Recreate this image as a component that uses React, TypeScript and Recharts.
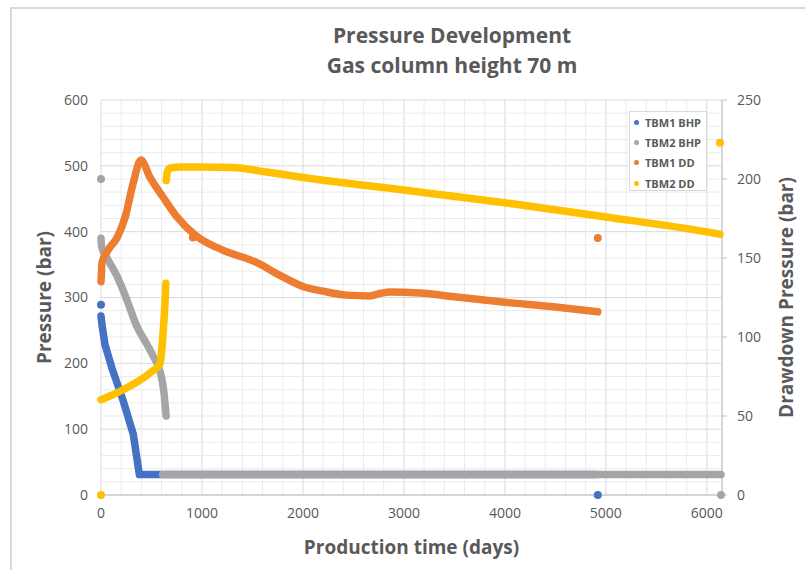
import {
  ScatterChart,
  Scatter,
  XAxis,
  YAxis,
  CartesianGrid,
  ReferenceLine,
  Label,
} from 'recharts';

// Values
const tbm1BhpDays = [0, 10, 40, 110, 220, 320, 380, 4920];
const tbm1BhpBar = [272, 258, 228, 192, 143, 92, 31, 31];

const tbm2BhpDays = [0, 5, 60, 150, 260, 350, 450, 520, 590, 620, 645];
const tbm2BhpBar = [390, 378, 360, 335, 295, 258, 230, 210, 185, 160, 120];
const tbm2BhpFlatDays = [610, 6140];
const tbm2BhpFlatBar = [31, 31];

const tbm1DdDays = [
  0, 5, 10, 70, 160, 240, 317, 396, 485, 614, 752, 931, 1000, 1205,
  1545, 1772, 2000, 2200, 2430, 2660, 2760, 2860, 3160, 3500, 4000, 4500, 4920,
];
const tbm1DdBar = [
  135, 142, 147, 155, 163, 176, 197, 212, 201, 188.6, 176, 164.6, 161.5,
  155, 147, 139, 132, 129, 126.5, 126, 127.5, 128.5, 127.8, 125.5, 122, 119, 116,
];

const tbm2DdDaysA = [0, 100, 200, 300, 410, 500, 584, 614, 635, 642];
const tbm2DdBarA = [60.3, 63, 66, 69.5, 73.6, 78, 83, 102, 123, 134];
const tbm2DdDaysB = [
  646, 655, 683, 810, 1010, 1300, 1640, 2000, 3000, 4000, 5000, 6000, 6130,
];
const tbm2DdBarB = [
  199, 204, 207, 207.6, 207.6, 207.3, 204.4, 201, 193, 185, 176, 166.5, 165,
];

// single stray points
const tbm1BhpDots = [
  { x: 0, y: 289 },
  { x: 4920, y: 0 },
];
const tbm2BhpDots = [
  { x: 0, y: 480 },
  { x: 6140, y: 0 },
];
const tbm1DdDots = [
  { x: 910, y: 163 },
  { x: 4920, y: 162.6 },
];
const tbm2DdDots = [
  { x: 0, y: 0 },
  { x: 6130, y: 223 },
];

const xTicks = [0, 1000, 2000, 3000, 4000, 5000, 6000];
const leftTicks = [0, 100, 200, 300, 400, 500, 600];
const rightTicks = [0, 50, 100, 150, 200, 250];
const minorX = Array.from({ length: 30 }, (_, i) => (i + 1) * 200).filter((v) => v % 1000 !== 0);
const minorY = Array.from({ length: 30 }, (_, i) => (i + 1) * 20).filter((v) => v % 100 !== 0);

const series = [
  { name: 'TBM1 BHP', color: '#4472C4' },
  { name: 'TBM2 BHP', color: '#A5A5A5' },
  { name: 'TBM1 DD', color: '#ED7D31' },
  { name: 'TBM2 DD', color: '#FFC000' },
];

const zip = (xs: number[], ys: number[]) => xs.map((x, i) => ({ x, y: ys[i] }));

const FONT = '"Open Sans", sans-serif';
const TEXT = '#595959';

const noDot = () => <g />;
const dot = (color: string) => (props: any) =>
  <circle cx={props.cx} cy={props.cy} r={4} fill={color} />;

const lineStyle = (color: string) => ({
  stroke: color,
  strokeWidth: 7.5,
  strokeLinecap: 'round',
  strokeLinejoin: 'round',
});

export default function App() {
  const [blue, gray, orange, yellow] = series.map((s) => s.color);
  const curve = (
    name: string | undefined,
    data: any[],
    color: string,
    axis: string,
    joint: any = 'monotoneX'
  ) => (
    <Scatter
      name={name}
      xAxisId='x'
      yAxisId={axis}
      data={data}
      line={lineStyle(color)}
      lineJointType={joint}
      shape={noDot}
      isAnimationActive={false}
    />
  );
  const dots = (data: any[], color: string, axis: string) => (
    <Scatter
      xAxisId='x'
      yAxisId={axis}
      data={data}
      shape={dot(color)}
      isAnimationActive={false}
    />
  );
  return (
    <div
      style={{
        position: 'absolute',
        left: 0,
        top: 0,
        width: 805,
        height: 570,
        background: '#fff',
        fontFamily: FONT,
        overflow: 'hidden',
      }}
    >
      <div
        style={{
          position: 'absolute',
          left: 10,
          top: 7,
          width: 900,
          height: 700,
          borderLeft: '2px solid #d9d9d9',
          borderTop: '2px solid #d9d9d9',
        }}
      />
      <div
        style={{
          position: 'absolute',
          left: 252,
          width: 400,
          top: 20,
          textAlign: 'center',
          color: TEXT,
          fontWeight: 700,
          fontSize: 21,
          lineHeight: '30px',
        }}
      >
        <div>Pressure Development</div>
        <div>Gas column height 70 m</div>
      </div>

      <ScatterChart
        width={805}
        height={570}
        margin={{ top: 100, right: 0, bottom: 0, left: 0 }}
        style={{ position: 'absolute', left: 0, top: 0 }}
      >
        {minorX.map((v) => (
          <ReferenceLine key={'mx' + v} xAxisId='x' yAxisId='left' x={v} stroke='#ebebeb' />
        ))}
        {minorY.map((v) => (
          <ReferenceLine key={'my' + v} xAxisId='x' yAxisId='left' y={v} stroke='#ebebeb' />
        ))}
        <CartesianGrid xAxisId='x' yAxisId='left' stroke='#d9d9d9' />
        <XAxis
          xAxisId='x'
          type='number'
          dataKey='x'
          domain={[0, 6150]}
          ticks={xTicks}
          height={75}
          axisLine={{ stroke: '#bfbfbf' }}
          tickLine={false}
          tickSize={0}
          tickMargin={13}
          tick={{ fill: TEXT, fontSize: 14, fontFamily: FONT }}
        >
          <Label
            value='Production time (days)'
            position='center'
            dy={15}
            style={{ fill: TEXT, fontSize: 19, fontWeight: 700, fontFamily: FONT }}
          />
        </XAxis>
        <YAxis
          yAxisId='left'
          type='number'
          dataKey='y'
          domain={[0, 600]}
          ticks={leftTicks}
          width={101}
          axisLine={false}
          tickLine={false}
          tickSize={0}
          tickMargin={13}
          tick={{ fill: TEXT, fontSize: 14, fontFamily: FONT }}
        >
          <Label
            value='Pressure (bar)'
            angle={-90}
            position='center'
            dx={-6}
            style={{ fill: TEXT, fontSize: 19, fontWeight: 700, fontFamily: FONT }}
          />
        </YAxis>
        <YAxis
          yAxisId='right'
          orientation='right'
          type='number'
          dataKey='y'
          domain={[0, 250]}
          ticks={rightTicks}
          width={83}
          axisLine={{ stroke: '#bfbfbf' }}
          tickLine={{ stroke: '#bfbfbf' }}
          tickSize={5}
          tickMargin={10}
          tick={{ fill: TEXT, fontSize: 14, fontFamily: FONT }}
        >
          <Label
            value='Drawdown Pressure (bar)'
            angle={-90}
            position='center'
            dx={23}
            style={{ fill: TEXT, fontSize: 19, fontWeight: 700, fontFamily: FONT }}
          />
        </YAxis>

        {curve('TBM1 BHP', zip(tbm1BhpDays, tbm1BhpBar), blue, 'left', 'linear')}
        {dots(tbm1BhpDots, blue, 'left')}
        {curve('TBM2 BHP', zip(tbm2BhpDays, tbm2BhpBar), gray, 'left')}
        {curve(undefined, zip(tbm2BhpFlatDays, tbm2BhpFlatBar), gray, 'left', 'linear')}
        {dots(tbm2BhpDots, gray, 'left')}
        {curve('TBM1 DD', zip(tbm1DdDays, tbm1DdBar), orange, 'right')}
        {dots(tbm1DdDots, orange, 'right')}
        {curve('TBM2 DD', zip(tbm2DdDaysA, tbm2DdBarA), yellow, 'right')}
        {curve(undefined, zip(tbm2DdDaysB, tbm2DdBarB), yellow, 'right')}
        {dots(tbm2DdDots, yellow, 'right')}
      </ScatterChart>

      <div
        style={{
          position: 'absolute',
          left: 629,
          top: 111,
          width: 78,
          height: 80,
          boxSizing: 'border-box',
          border: '1px solid #d9d9d9',
          background: '#fff',
          padding: '0 0 0 4px',
        }}
      >
        {series.map((s) => (
          <div
            key={s.name}
            style={{
              display: 'flex',
              alignItems: 'center',
              height: 20.3,
              fontSize: 11,
              fontWeight: 700,
              color: TEXT,
              whiteSpace: 'nowrap',
            }}
          >
            <span
              style={{
                display: 'inline-block',
                width: 5,
                height: 5,
                borderRadius: '50%',
                background: s.color,
                marginRight: 6,
              }}
            />
            {s.name}
          </div>
        ))}
      </div>
    </div>
  );
}
